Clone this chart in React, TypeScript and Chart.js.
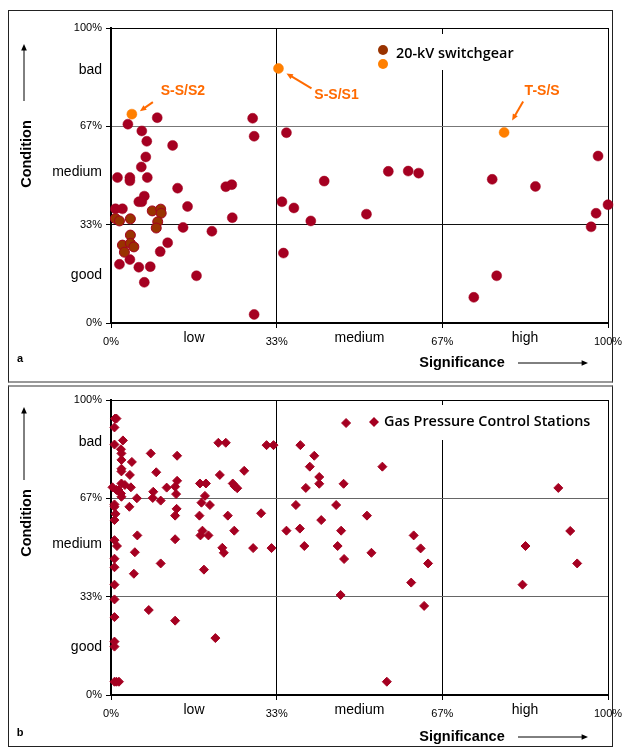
import React, { useEffect, useRef } from 'react';
import { Chart, registerables } from 'chart.js';

Chart.register(...registerables);

type Pt = [number, number];

// ---- axis ticks ----
const X_TICK_VALUES = [0, 16.7, 33.33, 50, 66.67, 83.3, 100];
const X_TICK_LABELS = ['0%', 'low', '33%', 'medium', '67%', 'high', '100%'];
const Y_TICK_VALUES = [0, 16.3, 33.33, 51, 66.67, 85.8, 100];
const Y_TICK_LABELS = ['0%', 'good', '33%', 'medium', '67%', 'bad', '100%'];

// ---- panel a: 20-kV switchgear (significance %, condition %) ----
const SERIES_A_RED: Pt[] = [
  [9.3, 69.6], [3.4, 67.4], [6.2, 65.1], [7.2, 61.6], [12.4, 60.2], [7.0, 56.3], [6.1, 52.9],
  [1.3, 49.3], [3.8, 49.3], [3.8, 48.2], [7.3, 49.3], [13.4, 45.7], [6.7, 43.0], [5.6, 41.1],
  [6.2, 41.1], [15.4, 39.5], [0.9, 38.7], [2.3, 38.7], [24.4, 35.7], [14.5, 32.4], [20.3, 31.1],
  [11.4, 27.2], [9.9, 24.2], [3.8, 21.5], [1.7, 19.9], [5.6, 18.9], [7.9, 19.1], [17.2, 16.0],
  [6.7, 13.8], [28.8, 2.9], [28.5, 69.4], [28.8, 63.3], [23.1, 46.2], [24.3, 46.9], [35.3, 64.5],
  [42.9, 48.1], [55.8, 51.4], [59.8, 51.5], [61.9, 50.8], [34.4, 41.1], [36.8, 39.0], [40.2, 34.6],
  [51.4, 36.9], [34.7, 23.7], [76.7, 48.7], [85.4, 46.3], [98.0, 56.6], [100, 40.1], [97.6, 37.2],
  [96.6, 32.6], [77.6, 16.0], [73.0, 8.7],
];
const SERIES_A_BROWN: Pt[] = [
  [8.3, 38.0], [10.0, 38.6], [10.1, 37.2], [9.4, 34.3], [9.1, 32.2], [3.9, 35.3], [0.9, 35.4],
  [1.7, 34.6], [3.9, 29.8], [2.3, 26.4], [3.9, 27.0], [4.6, 25.8], [2.7, 24.0],
];
const SERIES_A_ORANGE: Pt[] = [[4.2, 70.8], [33.7, 86.3], [79.1, 64.6]];
const ORANGE_LABELS = ['S-S/S2', 'S-S/S1', 'T-S/S'];
const LEGEND_A = '20-kV switchgear';

// ---- panel b: gas pressure control stations ----
const SERIES_B: Pt[] = [
  [0.8, 93.7], [1.1, 93.7], [0.7, 90.7], [2.4, 86.3], [0.7, 84.9], [2.0, 83.3], [2.1, 81.9],
  [2.1, 79.7], [2.1, 76.7], [2.1, 75.8], [4.2, 79.0], [3.8, 74.6], [8.0, 81.9], [13.3, 81.1],
  [9.1, 75.5], [13.3, 72.6], [0.3, 70.4], [1.5, 69.5], [2.1, 71.7], [2.8, 71.2], [4.0, 70.4],
  [2.0, 68.3], [1.1, 69.5], [2.1, 67.2], [5.2, 66.7], [8.5, 68.9], [8.4, 66.8], [10.0, 65.9],
  [11.2, 70.3], [12.9, 70.6], [13.1, 68.1], [0.7, 64.6], [0.7, 63.8], [3.7, 63.8], [0.9, 61.4],
  [0.7, 59.3], [13.2, 63.1], [12.9, 60.8], [17.9, 71.7], [19.1, 71.7], [18.9, 67.5], [18.2, 65.2],
  [19.9, 64.4], [17.8, 60.8], [23.5, 60.8], [30.2, 61.6], [21.6, 85.5], [23.1, 85.5], [21.9, 74.6],
  [26.8, 76.0], [24.5, 71.7], [24.9, 70.8], [25.4, 70.1], [31.3, 84.7], [32.7, 84.7], [0.7, 52.5],
  [1.2, 50.5], [5.3, 54.1], [12.9, 52.8], [18.0, 54.1], [18.4, 55.7], [19.6, 54.1], [24.8, 55.7],
  [22.4, 49.9], [22.7, 48.2], [28.6, 49.8], [32.3, 49.8], [4.8, 48.4], [0.7, 46.2], [0.7, 43.3],
  [10.0, 44.6], [4.6, 41.1], [18.7, 42.5], [0.7, 37.4], [0.7, 32.4], [0.7, 26.4], [7.6, 28.8],
  [12.9, 25.2], [21.0, 19.3], [0.7, 18.1], [0.7, 16.4], [0.7, 4.5], [1.1, 4.5], [1.6, 4.5],
  [47.3, 92.2], [38.1, 84.7], [40.9, 81.1], [40.0, 77.4], [54.6, 77.4], [41.9, 73.9], [41.9, 71.6],
  [39.2, 70.2], [46.8, 71.6], [37.2, 64.4], [45.3, 64.4], [51.5, 60.8], [42.3, 59.3], [35.3, 55.7],
  [38.0, 56.4], [46.3, 55.7], [60.9, 54.1], [38.9, 50.5], [45.6, 50.5], [62.3, 49.7], [52.4, 48.2],
  [46.9, 46.1], [63.8, 44.6], [60.4, 38.1], [46.2, 33.9], [63.0, 30.2], [55.5, 4.5],
  [90.0, 70.2], [92.4, 55.6], [83.4, 50.5], [93.8, 44.6], [82.8, 37.4],
];
const LEGEND_B = 'Gas Pressure Control Stations';

// ---- styles ----
const TICK_FONT = '"Liberation Sans", Arial, sans-serif';
const LEGEND_FONT = '600 14.4px "Open Sans", sans-serif';
const TITLE_FONT = 'bold 14.5px "Liberation Sans", Arial, sans-serif';
const RED = '#A50021';
const BROWN = '#993300';
const ORANGE = '#FF7F00';
const ARROW_ORANGE = '#FF6A00';
const T = 'rgba(0,0,0,0)';

// label centre / arrow start / arrow end, relative to the annotated point
const ANNOT_OFFSETS = [
  { lx: 51, ly: -23, sx: 21, sy: -12, ex: 8, ey: -3 },
  { lx: 58, ly: 27, sx: 33, sy: 20, ex: 8, ey: 5 },
  { lx: 38, ly: -41, sx: 19, sy: -31, ex: 8, ey: -12 },
];

const toXY = (pts: Pt[]) => pts.map(([x, y]) => ({ x, y }));

function arrow(ctx: CanvasRenderingContext2D, x1: number, y1: number, x2: number, y2: number, color: string, lw: number, head: number) {
  const a = Math.atan2(y2 - y1, x2 - x1);
  ctx.strokeStyle = color;
  ctx.fillStyle = color;
  ctx.lineWidth = lw;
  ctx.beginPath();
  ctx.moveTo(x1, y1);
  ctx.lineTo(x2 - Math.cos(a) * head * 0.7, y2 - Math.sin(a) * head * 0.7);
  ctx.stroke();
  ctx.beginPath();
  ctx.moveTo(x2, y2);
  ctx.lineTo(x2 - head * Math.cos(a - 0.42), y2 - head * Math.sin(a - 0.42));
  ctx.lineTo(x2 - head * Math.cos(a + 0.42), y2 - head * Math.sin(a + 0.42));
  ctx.closePath();
  ctx.fill();
}

function axisTitles(ctx: CanvasRenderingContext2D, condY: number, arrTop: number, arrBot: number, sigY: number, letter: string, letterY: number) {
  ctx.save();
  ctx.fillStyle = '#000';
  ctx.font = TITLE_FONT;
  ctx.textAlign = 'center';
  ctx.textBaseline = 'middle';
  ctx.save();
  ctx.translate(27, condY);
  ctx.rotate(-Math.PI / 2);
  ctx.fillText('Condition', 0, 0);
  ctx.restore();
  arrow(ctx, 24, arrBot, 24, arrTop, '#000', 1, 7);
  ctx.fillStyle = '#000';
  ctx.fillText('Significance', 462, sigY);
  arrow(ctx, 518, sigY, 588, sigY, '#000', 1, 7);
  ctx.fillStyle = '#000';
  ctx.font = 'bold 11px "Liberation Sans", Arial, sans-serif';
  ctx.fillText(letter, 20, letterY);
  ctx.restore();
}

function buildScales(xHeight: number, hColors: string[]) {
  const vColors = ['#000', T, '#000', T, '#000', T, '#000'];
  const tickCol = (c: any) => (c.index % 2 === 1 ? T : '#000');
  const font = (c: any) => ({ family: TICK_FONT, size: c.index % 2 === 1 ? 14 : 11, lineHeight: 1.2 });
  return {
    x: {
      type: 'linear',
      min: 0,
      max: 100,
      afterBuildTicks: (s: any) => {
        s.ticks = X_TICK_VALUES.map((v) => ({ value: v }));
      },
      afterFit: (s: any) => {
        s.height = xHeight;
        s.paddingLeft = 0;
        s.paddingRight = 14;
      },
      ticks: {
        autoSkip: false,
        maxRotation: 0,
        minRotation: 0,
        padding: 10,
        crossAlign: 'far',
        color: '#000',
        font,
        callback: (_v: any, i: number) => X_TICK_LABELS[i],
      },
      grid: { color: (c: any) => vColors[c.index] ?? T, tickColor: tickCol, tickLength: 5, lineWidth: 1 },
      border: { color: '#000', width: 2 },
    },
    y: {
      type: 'linear',
      min: 0,
      max: 100,
      afterBuildTicks: (s: any) => {
        s.ticks = Y_TICK_VALUES.map((v) => ({ value: v }));
      },
      afterFit: (s: any) => {
        s.width = 111;
      },
      ticks: {
        autoSkip: false,
        padding: 4,
        color: '#000',
        font,
        callback: (_v: any, i: number) => Y_TICK_LABELS[i],
      },
      grid: { color: (c: any) => hColors[c.index] ?? T, tickColor: tickCol, tickLength: 5, lineWidth: 1 },
      border: { color: '#000', width: 2 },
    },
  };
}

function baseOptions(top: number, xHeight: number, hColors: string[]) {
  return {
    responsive: false,
    animation: false,
    events: [],
    layout: { padding: { top, right: 0, left: 0, bottom: 0 } },
    plugins: { legend: { display: false }, tooltip: { enabled: false } },
    scales: buildScales(xHeight, hColors),
  };
}

function configA(): any {
  const decor = {
    id: 'decorA',
    afterDatasetsDraw(chart: any) {
      const ctx: CanvasRenderingContext2D = chart.ctx;
      const { x, y } = chart.scales;
      ctx.save();
      // legend box
      ctx.fillStyle = '#fff';
      ctx.fillRect(366, 34, 238, 36);
      ctx.fillStyle = BROWN;
      ctx.beginPath();
      ctx.arc(383, 50, 5, 0, Math.PI * 2);
      ctx.fill();
      ctx.fillStyle = ORANGE;
      ctx.beginPath();
      ctx.arc(383, 64, 5, 0, Math.PI * 2);
      ctx.fill();
      ctx.fillStyle = '#000';
      ctx.font = LEGEND_FONT;
      ctx.textAlign = 'left';
      ctx.textBaseline = 'middle';
      ctx.fillText(LEGEND_A, 396, 54);
      // annotations
      SERIES_A_ORANGE.forEach((p, i) => {
        const px = x.getPixelForValue(p[0]);
        const py = y.getPixelForValue(p[1]);
        const o = ANNOT_OFFSETS[i];
        ctx.fillStyle = ARROW_ORANGE;
        ctx.font = 'bold 14px "Liberation Sans", Arial, sans-serif';
        ctx.textAlign = 'center';
        ctx.textBaseline = 'middle';
        ctx.fillText(ORANGE_LABELS[i], px + o.lx, py + o.ly);
        arrow(ctx, px + o.sx, py + o.sy, px + o.ex, py + o.ey, ARROW_ORANGE, 2, 7);
      });
      ctx.restore();
    },
    afterDraw(chart: any) {
      axisTitles(chart.ctx, 154, 44, 101, 363, 'a', 359);
    },
  };
  return {
    type: 'scatter',
    data: {
      datasets: [
        { label: 'orange', data: toXY(SERIES_A_ORANGE), pointRadius: 5, pointBackgroundColor: ORANGE, pointBorderColor: ORANGE, pointBorderWidth: 0.5, clip: false },
        { label: LEGEND_A, data: toXY(SERIES_A_BROWN), pointRadius: 5, pointBackgroundColor: BROWN, pointBorderColor: RED, pointBorderWidth: 1, clip: false },
        { label: 'red', data: toXY(SERIES_A_RED), pointRadius: 5, pointBackgroundColor: RED, pointBorderColor: RED, pointBorderWidth: 0.5, clip: false },
      ],
    },
    options: baseOptions(28, 60, ['#000', T, '#111', T, '#777', T, '#000']),
    plugins: [decor],
  };
}

function configB(): any {
  const decor = {
    id: 'decorB',
    afterDatasetsDraw(chart: any) {
      const ctx: CanvasRenderingContext2D = chart.ctx;
      ctx.save();
      ctx.fillStyle = '#fff';
      ctx.fillRect(360, 22, 244, 35);
      const cx = 374;
      const cy = 39;
      const r = 5;
      ctx.fillStyle = RED;
      ctx.beginPath();
      ctx.moveTo(cx - r, cy);
      ctx.lineTo(cx, cy - r);
      ctx.lineTo(cx + r, cy);
      ctx.lineTo(cx, cy + r);
      ctx.closePath();
      ctx.fill();
      ctx.fillStyle = '#000';
      ctx.font = LEGEND_FONT;
      ctx.textAlign = 'left';
      ctx.textBaseline = 'middle';
      ctx.fillText(LEGEND_B, 384, 39);
      ctx.restore();
    },
    afterDraw(chart: any) {
      axisTitles(chart.ctx, 140, 24, 97, 354, 'b', 350);
    },
  };
  return {
    type: 'scatter',
    data: {
      datasets: [
        { label: LEGEND_B, data: toXY(SERIES_B), pointStyle: 'rectRot', pointRadius: 4.5, pointBackgroundColor: RED, pointBorderColor: RED, pointBorderWidth: 1, clip: false },
      ],
    },
    options: baseOptions(17, 54, ['#000', T, '#666', T, '#666', T, '#000']),
    plugins: [decor],
  };
}

export default function App() {
  const refA = useRef<HTMLCanvasElement>(null);
  const refB = useRef<HTMLCanvasElement>(null);
  useEffect(() => {
    const a = new Chart(refA.current as HTMLCanvasElement, configA());
    const b = new Chart(refB.current as HTMLCanvasElement, configB());
    return () => {
      a.destroy();
      b.destroy();
    };
  }, []);
  return (
    <div style={{ position: 'absolute', left: 0, top: 0, width: 622, height: 749, background: '#fff', overflow: 'hidden' }}>
      <div style={{ position: 'absolute', left: 8, top: 10, width: 605, height: 373, boxSizing: 'border-box', border: '1px solid #222', borderBottom: '2px solid #999' }} />
      <div style={{ position: 'absolute', left: 8, top: 385, width: 605, height: 362, boxSizing: 'border-box', border: '1px solid #222', borderTop: '2px solid #999' }} />
      <canvas ref={refA} width={622} height={383} style={{ position: 'absolute', left: 0, top: 0, width: 622, height: 383 }} />
      <canvas ref={refB} width={622} height={366} style={{ position: 'absolute', left: 0, top: 383, width: 622, height: 366 }} />
    </div>
  );
}
